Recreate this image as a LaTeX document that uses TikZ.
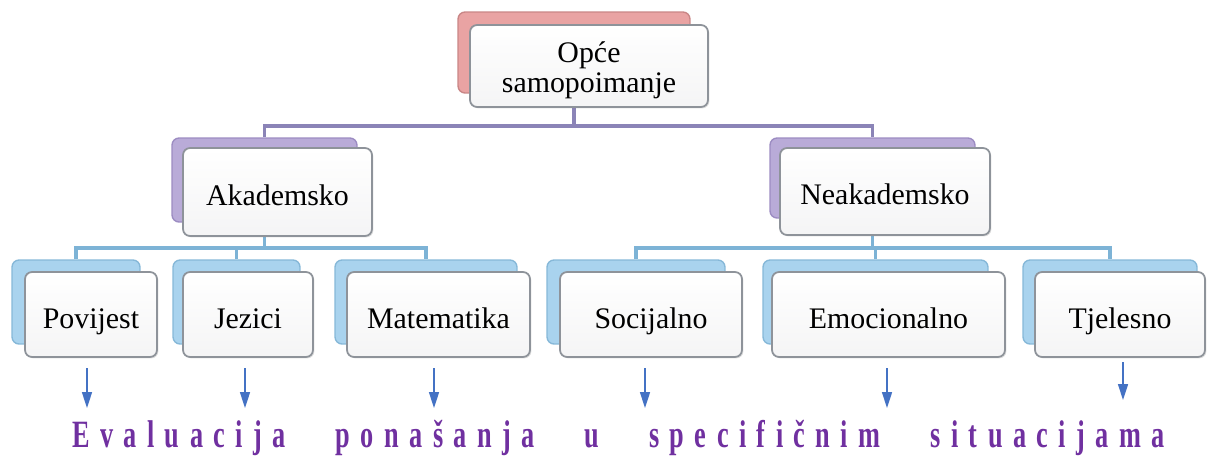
\documentclass[tikz,border=0pt]{standalone}
\usepackage{fontspec}
\setmainfont{Liberation Serif}
\newfontfamily\evalfont{Liberation Serif}[FakeStretch=0.68, LetterSpace=27]
\usetikzlibrary{arrows.meta,backgrounds,shadows}
\definecolor{pinkb}{HTML}{E9A3A3}
\definecolor{pinkd}{HTML}{C98686}
\definecolor{lilab}{HTML}{B9ABD8}
\definecolor{lilad}{HTML}{9C8CC2}
\definecolor{blueb}{HTML}{A9D3EE}
\definecolor{blued}{HTML}{86B8D8}
\definecolor{linkA}{HTML}{8B84B7}
\definecolor{linkB}{HTML}{7DB3D6}
\definecolor{arrowc}{HTML}{4472C4}
\definecolor{evalc}{HTML}{7030A0}
\definecolor{frameg}{HTML}{8E939A}
\begin{document}
\begin{tikzpicture}[x=0.02cm, y=-0.02cm,
  front/.style = {draw=frameg, line width=1pt, rounded corners=4pt, top color=white, bottom color=blue!4!gray!8,
                  inner sep=0pt, align=center, font=\fontsize{17}{19}\selectfont,
                  text height=16pt, text depth=0pt,
                  drop shadow={opacity=0.25, shadow xshift=0.8pt, shadow yshift=-0.8pt}},
  back/.style = {rounded corners=4pt, inner sep=0pt, line width=0.8pt},
  toplink/.style = {draw=linkA, line width=1.8pt},
  sublink/.style = {draw=linkB, line width=1.8pt},
  down/.style = {draw=arrowc, line width=0.9pt, -{Triangle[width=2mm, length=3.2mm]}}]
\useasboundingbox (0,0) rectangle (1210,457);

% top level
\node[back, fill=pinkb, draw=pinkd, minimum width=4.64cm, minimum height=1.62cm] (opceb) at (574,52.5) {};
\node[front, minimum width=4.76cm, minimum height=1.64cm, text height=30pt] (opce) at (589,66) {Opće\\[-2pt]samopoimanje};

% second level
\node[back, fill=lilab, draw=lilad, minimum width=3.70cm, minimum height=1.68cm] (akadb) at (264.5,180) {};
\node[front, minimum width=3.78cm, minimum height=1.76cm, text height=15pt] (akad) at (277.5,192) {Akademsko};
\node[back, fill=lilab, draw=lilad, minimum width=4.10cm, minimum height=1.60cm] (neakb) at (872.5,178) {};
\node[front, minimum width=4.20cm, minimum height=1.74cm, text height=15pt] (neak) at (885,191.5) {Neakademsko};

% third level
\node[back, fill=blueb, draw=blued, minimum width=2.56cm, minimum height=1.68cm] (povb) at (76,302) {};
\node[front, minimum width=2.64cm, minimum height=1.70cm] (pov) at (91,314.5) {Povijest};
\node[back, fill=blueb, draw=blued, minimum width=2.54cm, minimum height=1.68cm] (jezb) at (236.5,302) {};
\node[front, minimum width=2.60cm, minimum height=1.70cm] (jez) at (248,314.5) {Jezici};
\node[back, fill=blueb, draw=blued, minimum width=3.64cm, minimum height=1.68cm] (matb) at (426,302) {};
\node[front, minimum width=3.66cm, minimum height=1.70cm] (mat) at (438.5,314.5) {Matematika};
\node[back, fill=blueb, draw=blued, minimum width=3.56cm, minimum height=1.68cm] (socb) at (636,302) {};
\node[front, minimum width=3.64cm, minimum height=1.70cm] (soc) at (651,314.5) {Socijalno};
\node[back, fill=blueb, draw=blued, minimum width=4.50cm, minimum height=1.68cm] (emob) at (875.5,302) {};
\node[front, minimum width=4.66cm, minimum height=1.70cm] (emo) at (888.5,314.5) {Emocionalno};
\node[back, fill=blueb, draw=blued, minimum width=3.48cm, minimum height=1.68cm] (tjeb) at (1110,302) {};
\node[front, minimum width=3.40cm, minimum height=1.70cm] (tje) at (1120,314.5) {Tjelesno};

% junctions
\coordinate (j1) at (574,126);
\coordinate (j2) at (264.5,248);
\coordinate (j3) at (872.5,248);

\begin{pgfonlayer}{background}
\draw[toplink] (opceb) -- (j1);
\draw[toplink] (akadb.north) |- (j1) -| (neakb.north);
\draw[sublink] (akadb) -- (j2);
\draw[sublink] (povb.north) |- (j2) -| (matb.north);
\draw[sublink] (jezb.north) -- (jezb |- j2);
\draw[sublink] (neakb) -- (j3);
\draw[sublink] (socb.north) |- (j3) -| (tjeb.north);
\draw[sublink] (emob.north) -- (emob |- j3);
\end{pgfonlayer}

% arrows
\coordinate (p1) at (87,368);   \coordinate (q1) at (87,408);
\coordinate (p2) at (245,368);  \coordinate (q2) at (245,408);
\coordinate (p3) at (434,368);  \coordinate (q3) at (434,408);
\coordinate (p4) at (645,368);  \coordinate (q4) at (645,408);
\coordinate (p5) at (887,368);  \coordinate (q5) at (887,408);
\coordinate (p6) at (1123,362); \coordinate (q6) at (1123,400);
\foreach \i in {1,...,6} \draw[down] (p\i) -- (q\i);

\node[text=evalc, inner sep=0pt, font=\evalfont\bfseries\fontsize{22}{24}\selectfont] (eval) at (618.5,438)
  {\makebox[21.86cm][s]{Evaluacija ponašanja u specifičnim situacijama}};

\end{tikzpicture}
\end{document}
